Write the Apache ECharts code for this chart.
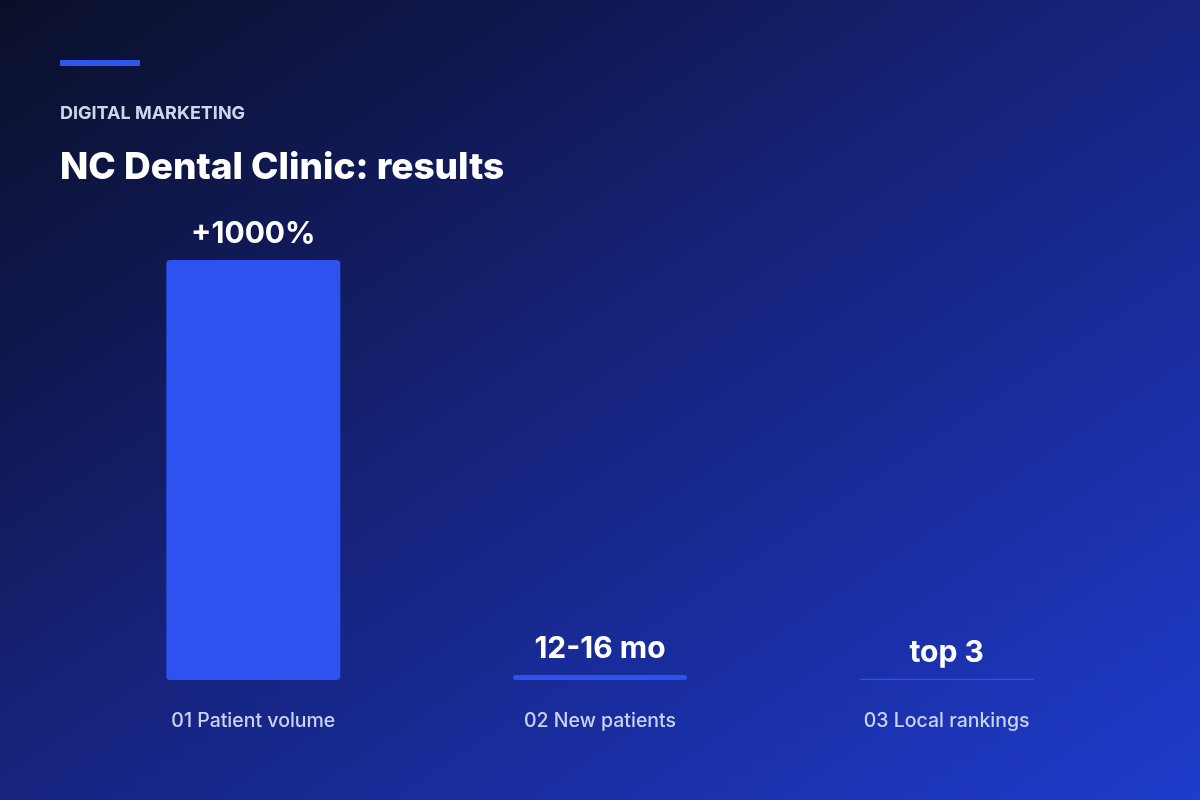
<!DOCTYPE html>
<html>
<head>
<meta charset="utf-8">
<script src="https://cdn.jsdelivr.net/npm/echarts@6/dist/echarts.min.js"></script>
<style>
  html, body { margin: 0; padding: 0; background: #0b1129; }
  #chart { width: 1200px; height: 800px; }
</style>
</head>
<body>
<div id="chart"></div>
<script>
// data
var categories = ['01 Patient volume', '02 New patients', '03 Local rankings'];
var values = [1000, 12, 3];
var valueLabels = ['+1000%', '12-16 mo', 'top 3'];

var chart = echarts.init(document.getElementById('chart'));

// css "to bottom right" style gradient
var bg = new echarts.graphic.LinearGradient(231, -154, 969, 954, [
  { offset: 0, color: '#0a0f28' },
  { offset: 0.28, color: '#111a58' },
  { offset: 0.5, color: '#16247f' },
  { offset: 0.75, color: '#1a2fa6' },
  { offset: 1, color: '#1f3ccc' }
], true);

var option = {
  backgroundColor: bg,
  textStyle: { fontFamily: 'Inter' },
  grid: { left: 80, right: 80, top: 260, bottom: 120 },
  xAxis: {
    type: 'category',
    data: categories,
    axisLine: { show: false },
    axisTick: { show: false },
    axisLabel: {
      margin: 31,
      color: '#c9d3f2',
      fontSize: 19.5,
      fontWeight: 500,
      fontFamily: 'Inter'
    }
  },
  yAxis: {
    type: 'value',
    min: 0,
    max: 1000,
    show: false,
    splitLine: { show: false }
  },
  graphic: [
    { type: 'rect', left: 60, top: 60, shape: { width: 80, height: 6 }, style: { fill: '#2f55f0' } },
    {
      type: 'text', left: 60, top: 105,
      style: { text: 'DIGITAL MARKETING', fill: '#cfd6ea', font: '700 18px Inter' }
    },
    {
      type: 'text', left: 60, top: 149,
      style: { text: 'NC Dental Clinic: results', fill: '#ffffff', font: '800 37px Inter' }
    }
  ],
  series: [{
    type: 'bar',
    data: values,
    barWidth: 174,
    itemStyle: { color: '#2d52f0', borderRadius: 4 },
    label: {
      show: true,
      position: 'top',
      distance: 11,
      color: '#ffffff',
      fontSize: 30,
      fontWeight: 700,
      fontFamily: 'Inter',
      formatter: function (p) { return valueLabels[p.dataIndex]; }
    }
  }]
};

chart.setOption(option);
</script>
</body>
</html>
